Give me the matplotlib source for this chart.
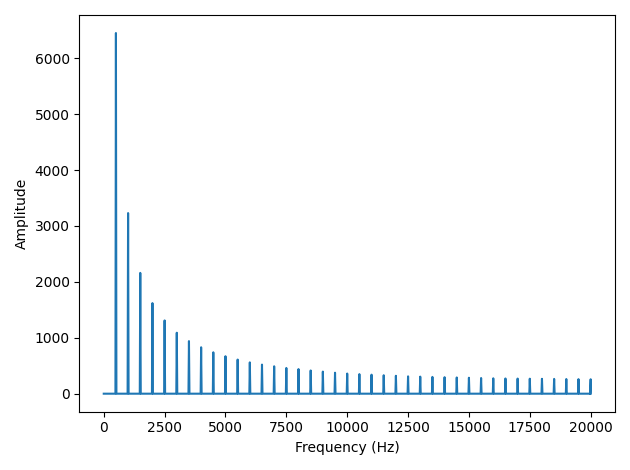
import matplotlib
matplotlib.use("Agg")
import matplotlib.pyplot as plt
import numpy as np

harmonic_freqs = [500 * k for k in range(1, 41)]
harmonic_amps = [6450, 3230, 2160, 1620, 1310, 1090, 940, 830, 740, 670,
                 610, 560, 520, 490, 460, 440, 415, 395, 375, 360,
                 350, 340, 330, 320, 310, 305, 300, 295, 290, 285,
                 280, 275, 272, 270, 268, 266, 264, 262, 260, 258]

half_width = 20
x = [0.0]
y = [0.0]
for f, a in zip(harmonic_freqs, harmonic_amps):
    x += [f - half_width, f, f + half_width]
    y += [0, a, 0]
x[-1] = harmonic_freqs[-1]
y[-1] = harmonic_amps[-1]
x.append(harmonic_freqs[-1]); y.append(0)

fig, ax = plt.subplots(figsize=(6.3, 4.7), dpi=100)
ax.plot(x, y, color="#1f77b4")
ax.set_xlabel("Frequency (Hz)")
ax.set_ylabel("Amplitude")
fig.tight_layout()
fig.savefig("out.png")
